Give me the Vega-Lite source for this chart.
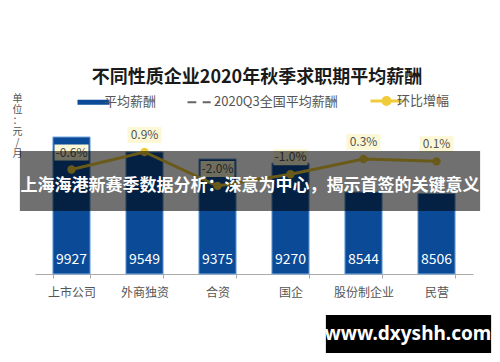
{
  "$schema": "https://vega.github.io/schema/vega-lite/v6.json",
  "autosize": "none",
  "width": 438,
  "height": 146,
  "padding": {"left": 35, "top": 128, "right": 27, "bottom": 88},
  "background": "white",
  "config": {
    "view": {"stroke": null},
    "font": "Noto Sans CJK SC",
    "locale": {"number": {"decimal": ".", "thousands": ",", "grouping": [3], "currency": ["", ""], "minus": "-"}}
  },
  "title": {
    "text": "不同性质企业2020年秋季求职期平均薪酬",
    "font": "Noto Sans CJK SC",
    "fontSize": 18,
    "fontWeight": "bold",
    "color": "#1a1a1a",
    "frame": "group",
    "anchor": "middle",
    "offset": 6,
    "dx": 3
  },
  "data": {
    "values": [
      {"type": "上市公司", "salary": 9927, "growth": -0.006},
      {"type": "外商独资", "salary": 9549, "growth": 0.009},
      {"type": "合资", "salary": 9375, "growth": -0.02},
      {"type": "国企", "salary": 9270, "growth": -0.01},
      {"type": "股份制企业", "salary": 8544, "growth": 0.003},
      {"type": "民营", "salary": 8506, "growth": 0.001}
    ]
  },
  "encoding": {
    "x": {
      "field": "type",
      "type": "nominal",
      "sort": null,
      "scale": {"paddingInner": 0.49, "paddingOuter": 0.245},
      "axis": {
        "title": null,
        "labelAngle": 0,
        "labelFontSize": 12,
        "labelColor": "#555555",
        "labelPadding": 9,
        "domainColor": "#aaaaaa",
        "tickColor": "#aaaaaa",
        "tickSize": 4,
        "tickBand": "extent",
        "grid": false
      }
    }
  },
  "layer": [
    {
      "layer": [
        {
          "mark": {"type": "bar", "stroke": "#7fb0e0", "strokeWidth": 1},
          "encoding": {
            "y": {
              "field": "salary",
              "type": "quantitative",
              "scale": {"domain": [6484, 10152], "zero": false, "nice": false},
              "axis": {
                "title": ["单", "位", "：", "元", "/", "月"],
                "titleAngle": 0,
                "titleX": -18,
                "titleY": -35,
                "titleBaseline": "top",
                "titleAlign": "center",
                "titleFontSize": 10,
                "titleFontWeight": "normal",
                "titleColor": "#555555",
                "titleLineHeight": 11,
                "labels": false,
                "ticks": false,
                "domain": false,
                "grid": false
              }
            },
            "y2": {"datum": 6484},
            "color": {
              "datum": "平均薪酬",
              "scale": {
                "domain": ["平均薪酬", "2020Q3全国平均薪酬", "环比增幅"],
                "range": ["#0a4a97", "#666666", "#f0cc3a"]
              },
              "legend": {
                "title": null,
                "orient": "none",
                "legendX": 52,
                "legendY": -34,
                "direction": "horizontal",
                "symbolSize": 1024,
                "symbolType": {"expr": "datum.value === '平均薪酬' ? 'M-1,-0.16H1V0.16H-1Z' : (datum.value === '环比增幅' ? 'M-1,0H1M0.22,0A0.22,0.22 0 1,1 -0.22,0A0.22,0.22 0 1,1 0.22,0Z' : 'M-1,0H-0.45M-0.05,0H0.45M0.85,0H1')"},
                "symbolStrokeWidth": {"expr": "datum.value === '平均薪酬' ? 0 : (datum.value === '环比增幅' ? 3 : 2)"},
                "symbolStrokeColor": {"expr": "scale('color', datum.value)"},
                "symbolFillColor": {"expr": "scale('color', datum.value)"},
                "symbolOpacity": 1,
                "labelFontSize": 13,
                "labelColor": "#555555",
                "labelOffset": 4,
                "columnPadding": 26,
                "padding": 0
              }
            }
          }
        },
        {
          "mark": {"type": "text", "color": "white", "fontSize": 14, "baseline": "middle", "dy": -14},
          "encoding": {
            "y": {"datum": 6484, "type": "quantitative"},
            "text": {"field": "salary", "type": "quantitative", "format": "d"}
          }
        }
      ]
    },
    {
      "layer": [
        {
          "mark": {"type": "line", "strokeWidth": 3},
          "encoding": {
            "y": {
              "field": "growth",
              "type": "quantitative",
              "scale": {"domain": [-0.0953, 0.0295], "zero": false, "nice": false},
              "axis": null
            },
            "color": {"datum": "环比增幅"}
          }
        },
        {
          "mark": {"type": "point", "filled": true, "size": 70, "opacity": 1},
          "encoding": {
            "y": {"field": "growth", "type": "quantitative"},
            "color": {"datum": "环比增幅"}
          }
        },
        {
          "mark": {"type": "tick", "orient": "horizontal", "size": 34, "thickness": 16, "yOffset": -17, "color": "#fcf7d5", "opacity": 1},
          "encoding": {
            "y": {"field": "growth", "type": "quantitative"}
          }
        },
        {
          "mark": {"type": "text", "dy": -17, "fontSize": 12, "color": "#555555", "baseline": "middle"},
          "encoding": {
            "y": {"field": "growth", "type": "quantitative"},
            "text": {"field": "growth", "type": "quantitative", "format": ".1%"}
          }
        },
        {
          "data": {"values": [{"overlay": "banner"}]},
          "mark": {"type": "rect", "color": "#000000", "opacity": 0.56, "xOffset": -33, "x2Offset": 25},
          "encoding": {
            "x": {"datum": "上市公司", "bandPosition": 0},
            "x2": {"datum": "民营", "bandPosition": 1},
            "y": {"datum": 0.0098, "type": "quantitative"},
            "y2": {"datum": -0.0415}
          }
        },
        {
          "data": {"values": [{"t": "上海海港新赛季数据分析：深意为中心，揭示首签的关键意义"}]},
          "mark": {"type": "text", "fontSize": 17, "fontWeight": "bold", "color": "white", "baseline": "middle", "align": "center", "dx": 14},
          "encoding": {
            "x": {"datum": "合资", "bandPosition": 1},
            "y": {"datum": -0.0201, "type": "quantitative"},
            "text": {"field": "t"}
          }
        },
        {
          "data": {"values": [{"overlay": "site"}]},
          "mark": {"type": "rect", "color": "#000000", "opacity": 1, "xOffset": -19, "x2Offset": 36},
          "encoding": {
            "x": {"datum": "股份制企业", "bandPosition": 0},
            "x2": {"datum": "民营", "bandPosition": 1},
            "y": {"datum": -0.1303, "type": "quantitative"},
            "y2": {"datum": -0.1628}
          }
        },
        {
          "data": {"values": [{"t": "www.dxyshh.com"}]},
          "mark": {"type": "text", "font": "Noto Sans", "fontSize": 19, "fontWeight": "bold", "color": "white", "baseline": "middle", "align": "center", "dx": -10},
          "encoding": {
            "x": {"datum": "民营", "bandPosition": 0},
            "y": {"datum": -0.1466, "type": "quantitative"},
            "text": {"field": "t"}
          }
        }
      ]
    }
  ],
  "resolve": {"scale": {"y": "independent"}}
}
